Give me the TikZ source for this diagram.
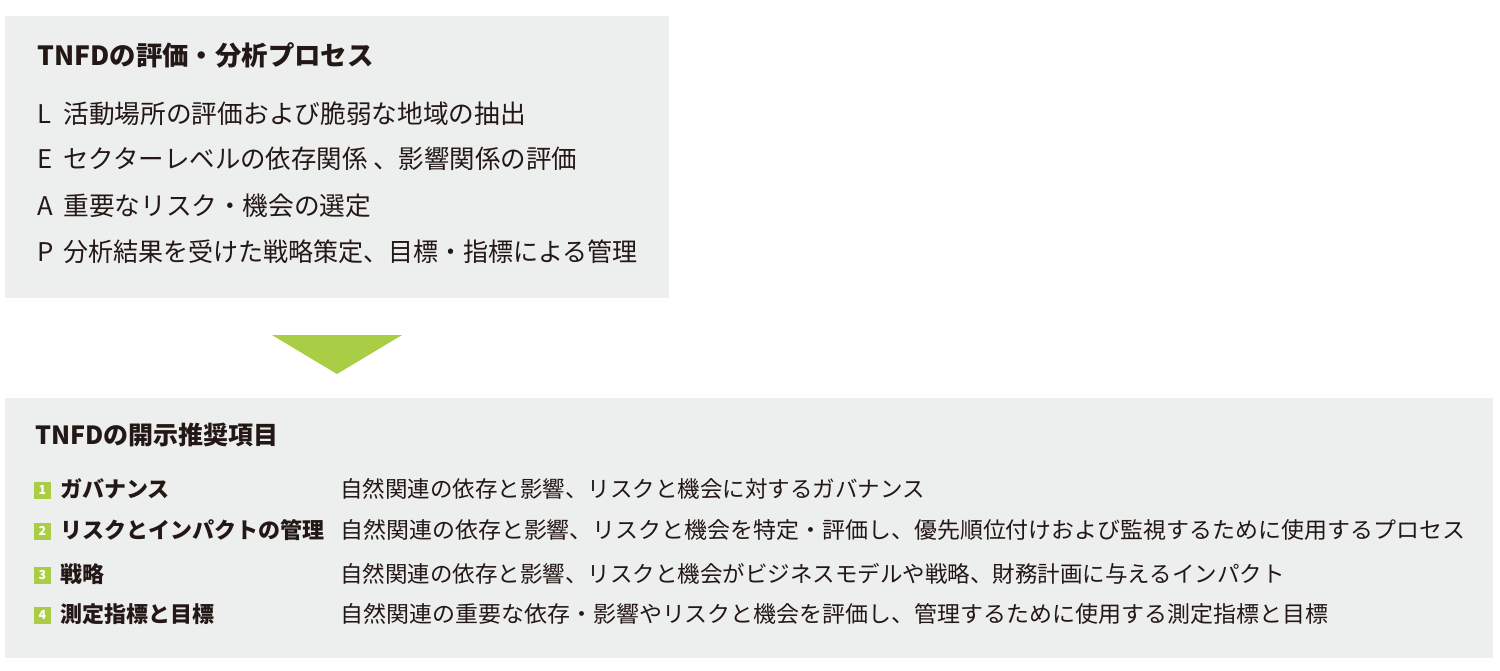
\documentclass[tikz,border=0pt]{standalone}
\usepackage{fontspec}
\setmainfont{Noto Sans CJK JP}
\definecolor{panel}{RGB}{237,238,238}
\definecolor{leaf}{RGB}{170,205,70}
\definecolor{ink}{RGB}{35,24,21}
\begin{document}
\begin{tikzpicture}[x=0.5pt,y=-0.5pt,
  txt/.style={anchor=west,inner sep=0pt,text height=0.88em,text depth=0.12em,text=ink},
  headA/.style={txt,font=\bfseries\fontsize{13.2}{15}\selectfont},
  headB/.style={txt,font=\bfseries\fontsize{12.5}{14}\selectfont},
  body/.style={txt,font=\fontsize{12.85}{15}\selectfont},
  lab/.style={txt,font=\bfseries\fontsize{11}{13}\selectfont},
  desc/.style={txt,font=\fontsize{11.25}{13}\selectfont},
  badge/.style={fill=leaf,minimum size=8.5pt,inner sep=0pt,text=white,font=\bfseries\fontsize{6.2}{7}\selectfont},
  panelbox/.style={fill=panel},
  pointer/.style={fill=leaf}]
\useasboundingbox (0,0) rectangle (1500,670);
% panels
\fill[panelbox] (5,16) rectangle (669,298);
\fill[panelbox] (5,398) rectangle (1493,658);
% pointer triangle
\coordinate (tl) at (272,335);
\coordinate (tr) at (402,335);
\coordinate (tb) at (337,374);
\fill[pointer] (tl) -- (tr) -- (tb) -- cycle;
% top panel
\node[headA] (t1) at (37,58) {TNFDの評価・分析プロセス};
\node[body] (l1) at (37,115.5) {L};
\node[body] (l2) at (63,115.5) {活動場所の評価および脆弱な地域の抽出};
\node[body] (e1) at (37,161) {E};
\node[body] (e2) at (63,161) {\scalebox{0.99}[1]{セクターレベルの依存関係 、影響関係の評価}};
\node[body] (a1) at (37,207.5) {A};
\node[body] (a2) at (63,207.5) {重要なリスク・機会の選定};
\node[body] (p1) at (37,254) {P};
\node[body] (p2) at (63,254) {\scalebox{0.973}[1]{分析結果を受けた戦略策定、目標・指標による管理}};
% bottom panel
\node[headB] (t2) at (35,437) {TNFDの開示推奨項目};
\node[badge] (b1) at (42.5,490) {1};
\node[lab] (g1) at (60,490) {ガバナンス};
\node[desc] (d1) at (340,490) {自然関連の依存と影響、リスクと機会に対するガバナンス};
\node[badge] (b2) at (42.5,531) {2};
\node[lab] (g2) at (60,531) {リスクとインパクトの管理};
\node[desc] (d2) at (340,531) {\scalebox{1.02}[1]{自然関連の依存と影響、リスクと機会を特定・評価し、優先順位付けおよび監視するために使用するプロセス}};
\node[badge] (b3) at (42.5,575) {3};
\node[lab] (g3) at (60,575) {戦略};
\node[desc] (d3) at (340,575) {自然関連の依存と影響、リスクと機会がビジネスモデルや戦略、財務計画に与えるインパクト};
\node[badge] (b4) at (42.5,615) {4};
\node[lab] (g4) at (60,615) {測定指標と目標};
\node[desc] (d4) at (340,615) {\scalebox{1.021}[1]{自然関連の重要な依存・影響やリスクと機会を評価し、管理するために使用する測定指標と目標}};
\end{tikzpicture}
\end{document}
